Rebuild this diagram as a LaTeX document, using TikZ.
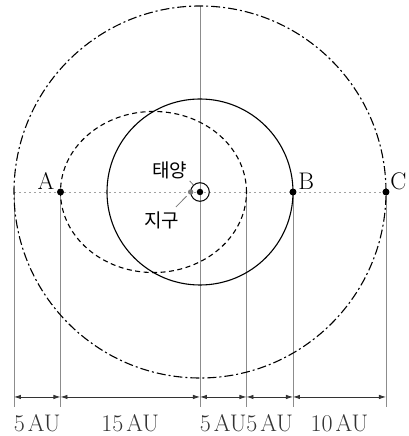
\documentclass[tikz,border=0pt]{standalone}
\usepackage{fontspec}
\usepackage{tikz}
\usetikzlibrary{arrows.meta,positioning,calc}
\newfontfamily\kofont{Noto Sans CJK KR}
\definecolor{guidegray}{RGB}{140,140,140}
\definecolor{dotgray}{RGB}{120,120,120}

\begin{document}
\begin{tikzpicture}[x=9.3pt,y=9.3pt,
        guide/.style={guidegray, line width=0.8pt},
        orbit/.style={black, line width=1.1pt},
        dimarrow/.style={{Latex[length=7pt,width=4.5pt]}-{Latex[length=7pt,width=4.5pt]}, black!80, line width=0.8pt},
        planet/.style={circle, fill=black, inner sep=0pt, minimum size=7pt},
        lbl/.style={font=\fontsize{24}{28}\selectfont, inner sep=1pt},
        kolbl/.style={font=\kofont\fontsize{19}{22}\selectfont, inner sep=0pt},
        leader/.style={dotgray, line width=0.8pt}]
        \useasboundingbox (-21.505,-26.237) rectangle (22.473,20.645);
        % Reference points
        \coordinate (L) at (-20,0);
        \coordinate (E) at (5,0);
        \coordinate (top) at (0,20);
        \coordinate (base) at (0,-23.1);
        \coordinate (dim) at (0,-22.04);
        % Axes
        \draw[guidegray!80, line width=0.9pt, dash pattern=on 2pt off 3pt] (L) -- (20,0);
        \draw[guide] (top) -- (base);
        \foreach \p in {L, E} {
            \draw[guide] (\p) -- (\p |- base);
        }
        \foreach \x in {-15, 10, 20} {
            \draw[guide] (\x,0) -- (\x,-23.1);
        }
        % Orbits
        \draw[orbit, dash pattern=on 9pt off 3pt on 2pt off 3pt] (0,0) circle (20);
        \draw[orbit, dash pattern=on 5pt off 3.5pt] (-5,0) ellipse (10 and 8.66);
        \draw[orbit] (0,0) circle (10);
        \draw[orbit, line width=1pt] (0,0) circle (1);
        % Bodies
        \node[planet] (A) at (-15,0) {};
        \node[planet] (B) at (10,0) {};
        \node[planet] (C) at (20,0) {};
        \node[planet, minimum size=6.5pt] (sun) at (0,0) {};
        \node[planet, fill=dotgray, minimum size=5.5pt] (earth) at (-1,0) {};
        \node[lbl, above left=-1.5pt and 2.5pt of A] (labelA) {A};
        \node[lbl, above right=-1.5pt and 1.5pt of B] (labelB) {B};
        \node[lbl, above right=-1.5pt and 0.5pt of C] (labelC) {C};
        \node[kolbl] (sunlabel) at (-3.23,2.37) {태양};
        \node[kolbl] (earthlabel) at (-4.09,-3.01) {지구};
        \coordinate (earthtip) at ($(earthlabel.north east)+(-0.4,0.45)$);
        \draw[leader, shorten <=3pt, shorten >=6pt] (sunlabel.south east) -- (sun);
        \draw[leader, shorten >=3pt] (earthtip) -- (earth);
        % Distances
        \draw[dimarrow] (L |- dim) -- (A |- dim) node[lbl, midway, below=16pt] {5\kern3pt AU};
        \draw[dimarrow] (A |- dim) -- (dim) node[lbl, midway, below=16pt] {15\kern3pt AU};
        \draw[dimarrow] (dim) -- (E |- dim) node[lbl, midway, below=16pt] {5\kern3pt AU};
        \draw[dimarrow] (E |- dim) -- (B |- dim) node[lbl, midway, below=16pt] {5\kern3pt AU};
        \draw[dimarrow] (B |- dim) -- (C |- dim) node[lbl, midway, below=16pt] {10\kern3pt AU};
\end{tikzpicture}
\end{document}
